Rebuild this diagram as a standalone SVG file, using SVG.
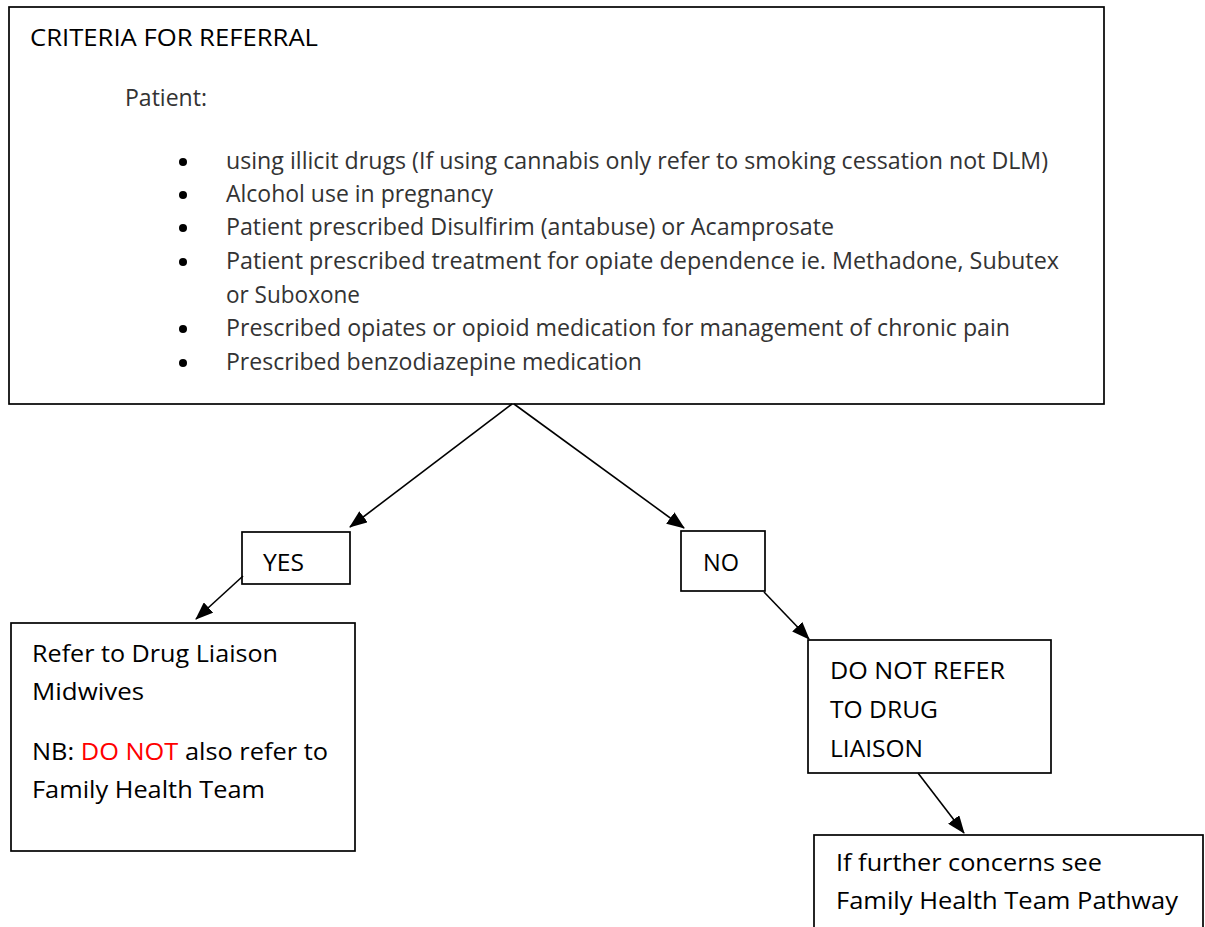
<svg xmlns="http://www.w3.org/2000/svg" width="1205" height="927" viewBox="0 0 1205 927">
  <style>
    .box { fill: #ffffff; stroke: #000000; stroke-width: 1.7; }
    .t { font-family: "Open Sans", "Liberation Sans", sans-serif; font-size: 24px; fill: #000000; }
    .g { fill: #333333; }
    .red { fill: #ff0000; }
    .conn { stroke: #000000; stroke-width: 1.6; fill: none; marker-end: url(#arrow); }
  </style>
  <defs>
    <marker id="arrow" markerUnits="userSpaceOnUse" markerWidth="18" markerHeight="14" viewBox="0 0 18 14" refX="17" refY="7" orient="auto">
      <path d="M0,0 L18,7 L0,14 z" fill="#000000"/>
    </marker>
  </defs>
  <rect width="1205" height="927" fill="#ffffff"/>

  <g id="criteria">
    <rect class="box" x="9" y="7" width="1095" height="397" stroke-width="2"/>
    <text class="t" x="30" y="46" textLength="288" lengthAdjust="spacingAndGlyphs">CRITERIA FOR REFERRAL</text>
    <text class="t g" x="125" y="106" textLength="82" lengthAdjust="spacingAndGlyphs">Patient:</text>
    <g fill="#000000">
      <circle cx="183" cy="162" r="4"/>
      <circle cx="183" cy="195" r="4"/>
      <circle cx="183" cy="228" r="4"/>
      <circle cx="183" cy="262" r="4"/>
      <circle cx="183" cy="329" r="4"/>
      <circle cx="183" cy="363" r="4"/>
    </g>
    <text class="t g" x="226" y="169" textLength="822" lengthAdjust="spacingAndGlyphs">using illicit drugs (If using cannabis only refer to smoking cessation not DLM)</text>
    <text class="t g" x="226" y="202" textLength="267" lengthAdjust="spacingAndGlyphs">Alcohol use in pregnancy</text>
    <text class="t g" x="226" y="235" textLength="608" lengthAdjust="spacingAndGlyphs">Patient prescribed Disulfirim (antabuse) or Acamprosate</text>
    <text class="t g" x="226" y="269" textLength="833" lengthAdjust="spacingAndGlyphs">Patient prescribed treatment for opiate dependence ie. Methadone, Subutex</text>
    <text class="t g" x="226" y="303" textLength="134" lengthAdjust="spacingAndGlyphs">or Suboxone</text>
    <text class="t g" x="226" y="336" textLength="784" lengthAdjust="spacingAndGlyphs">Prescribed opiates or opioid medication for management of chronic pain</text>
    <text class="t g" x="226" y="370" textLength="416" lengthAdjust="spacingAndGlyphs">Prescribed benzodiazepine medication</text>
  </g>

  <g id="yes">
    <rect class="box" x="242" y="532" width="108" height="52"/>
    <text class="t" x="263" y="571" textLength="41" lengthAdjust="spacingAndGlyphs">YES</text>
  </g>

  <g id="no">
    <rect class="box" x="681" y="531" width="84" height="60"/>
    <text class="t" x="703" y="571" textLength="36" lengthAdjust="spacingAndGlyphs">NO</text>
  </g>

  <g id="refer">
    <rect class="box" x="11" y="623" width="344" height="228"/>
    <text class="t" x="32" y="662" textLength="246" lengthAdjust="spacingAndGlyphs">Refer to Drug Liaison</text>
    <text class="t" x="32" y="700" textLength="112" lengthAdjust="spacingAndGlyphs">Midwives</text>
    <text class="t" x="32" y="760" textLength="296" lengthAdjust="spacingAndGlyphs">NB: <tspan class="red">DO NOT</tspan> also refer to</text>
    <text class="t" x="32" y="798" textLength="233" lengthAdjust="spacingAndGlyphs">Family Health Team</text>
  </g>

  <g id="donot">
    <rect class="box" x="808" y="640" width="243" height="133"/>
    <text class="t" x="830" y="679" textLength="175" lengthAdjust="spacingAndGlyphs">DO NOT REFER</text>
    <text class="t" x="830" y="718" textLength="108" lengthAdjust="spacingAndGlyphs">TO DRUG</text>
    <text class="t" x="830" y="757" textLength="93" lengthAdjust="spacingAndGlyphs">LIAISON</text>
  </g>

  <g id="further">
    <rect class="box" x="814" y="835" width="389" height="110"/>
    <text class="t" x="836" y="871" textLength="266" lengthAdjust="spacingAndGlyphs">If further concerns see</text>
    <text class="t" x="836" y="909" textLength="342" lengthAdjust="spacingAndGlyphs">Family Health Team Pathway</text>
  </g>

  <g id="connectors">
    <line class="conn" x1="512" y1="404" x2="350" y2="527"/>
    <line class="conn" x1="514" y1="404" x2="684" y2="528"/>
    <line class="conn" x1="243" y1="576" x2="196" y2="619"/>
    <line class="conn" x1="764" y1="592" x2="809" y2="639"/>
    <line class="conn" x1="918" y1="773" x2="964" y2="833"/>
  </g>
</svg>
